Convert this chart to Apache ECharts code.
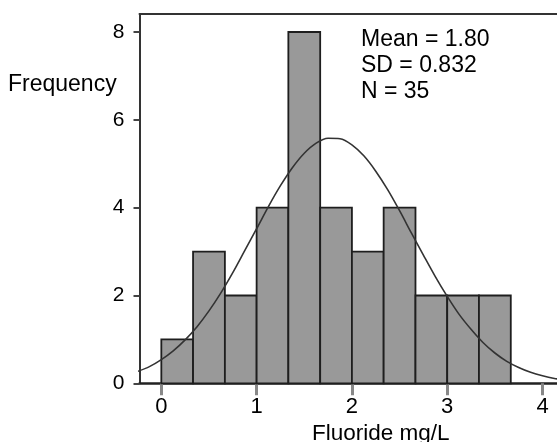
<!DOCTYPE html>
<html>
<head>
<meta charset="utf-8">
<script src="https://cdn.jsdelivr.net/npm/echarts@6/dist/echarts.min.js"></script>
<style>html,body{margin:0;padding:0;background:#fff;}#c{width:557px;height:442px;}</style>
</head>
<body>
<div id="c"></div>
<script>
// Histogram bins (lower edge, upper edge) and frequencies
const binLower = [0, 0.333, 0.667, 1.0, 1.333, 1.667, 2.0, 2.333, 2.667, 3.0, 3.333];
const binUpper = [0.333, 0.667, 1.0, 1.333, 1.667, 2.0, 2.333, 2.667, 3.0, 3.333, 3.667];
const counts = [1, 3, 2, 4, 8, 4, 3, 4, 2, 2, 2];
// Fitted normal curve
const curveX = [-0.25, -0.125, 0, 0.125, 0.25, 0.375, 0.5, 0.625, 0.75, 0.875, 1.0, 1.125, 1.25, 1.375, 1.5, 1.625, 1.75, 1.875, 2.0, 2.125, 2.25, 2.375, 2.5, 2.625, 2.75, 2.875, 3.0, 3.125, 3.25, 3.375, 3.5, 3.625, 3.75, 3.875, 4.0, 4.125, 4.25];
const curveY = [0.27, 0.38, 0.54, 0.74, 0.99, 1.29, 1.65, 2.06, 2.52, 3.02, 3.52, 4.03, 4.50, 4.91, 5.24, 5.47, 5.58, 5.57, 5.43, 5.18, 4.83, 4.41, 3.93, 3.42, 2.92, 2.43, 1.98, 1.57, 1.23, 0.93, 0.69, 0.50, 0.36, 0.25, 0.17, 0.11, 0.07];
const xTicks = [0, 1, 2, 3, 4];
const yTicks = [0, 2, 4, 6, 8];
const statsLines = ['Mean = 1.80', 'SD = 0.832', 'N = 35'];

const barData = counts.map((c, i) => [binLower[i], binUpper[i], c]);
const curveData = curveX.map((x, i) => [x, curveY[i]]);

const chart = echarts.init(document.getElementById('c'));
const font = 'Liberation Sans, Arial, sans-serif';
chart.setOption({
  animation: false,
  backgroundColor: '#fff',
  grid: { left: 139.5, top: 14, bottom: 58.7, right: 0, show: false, containLabel: false },
  xAxis: [{
    type: 'value', min: -0.229, max: 4.152,
    splitLine: { show: false },
    axisLine: { show: true, onZero: false, lineStyle: { color: '#222', width: 2.5 } },
    axisTick: { show: true, customValues: xTicks, length: 12, lineStyle: { color: '#888', width: 3 } },
    axisLabel: { customValues: xTicks, margin: 13, fontSize: 22, color: '#000', fontFamily: font }
  }, {
    type: 'value', position: 'top', min: -0.229, max: 4.152,
    splitLine: { show: false },
    axisLine: { show: true, onZero: false, lineStyle: { color: '#333', width: 2 } },
    axisTick: { show: false },
    axisLabel: { show: false }
  }],
  yAxis: {
    type: 'value', min: 0, max: 8.41,
    splitLine: { show: false },
    axisLine: { show: true, onZero: false, lineStyle: { color: '#333', width: 2 } },
    axisTick: { show: true, customValues: yTicks, length: 6, lineStyle: { color: '#444', width: 2 } },
    axisLabel: { customValues: yTicks, margin: 15, fontSize: 21, color: '#000', fontFamily: font }
  },
  series: [
    {
      type: 'custom',
      data: barData,
      encode: { x: [0, 1], y: 2 },
      z: 2,
      renderItem: function (params, api) {
        const p0 = api.coord([api.value(0), 0]);
        const p1 = api.coord([api.value(1), api.value(2)]);
        return {
          type: 'rect',
          shape: { x: p0[0], y: p1[1], width: p1[0] - p0[0], height: p0[1] - p1[1] },
          style: { fill: '#999999', stroke: '#1e1e1e', lineWidth: 1.8 }
        };
      }
    },
    {
      type: 'line',
      data: curveData,
      smooth: 0.3,
      showSymbol: false,
      clip: true,
      z: 3,
      lineStyle: { color: '#333', width: 1.6 }
    }
  ],
  graphic: [
    { type: 'text', left: 8, top: 73, style: { text: 'Frequency', fontSize: 23, fill: '#000', fontFamily: font } },
    { type: 'text', left: 312, top: 422, style: { text: 'Fluoride mg/L', fontSize: 22.5, fill: '#000', fontFamily: font } },
    { type: 'text', left: 361, top: 28, style: { text: statsLines[0], fontSize: 23, fill: '#000', fontFamily: font } },
    { type: 'text', left: 361, top: 54, style: { text: statsLines[1], fontSize: 23, fill: '#000', fontFamily: font } },
    { type: 'text', left: 361, top: 80, style: { text: statsLines[2], fontSize: 23, fill: '#000', fontFamily: font } }
  ]
});
</script>
</body>
</html>
